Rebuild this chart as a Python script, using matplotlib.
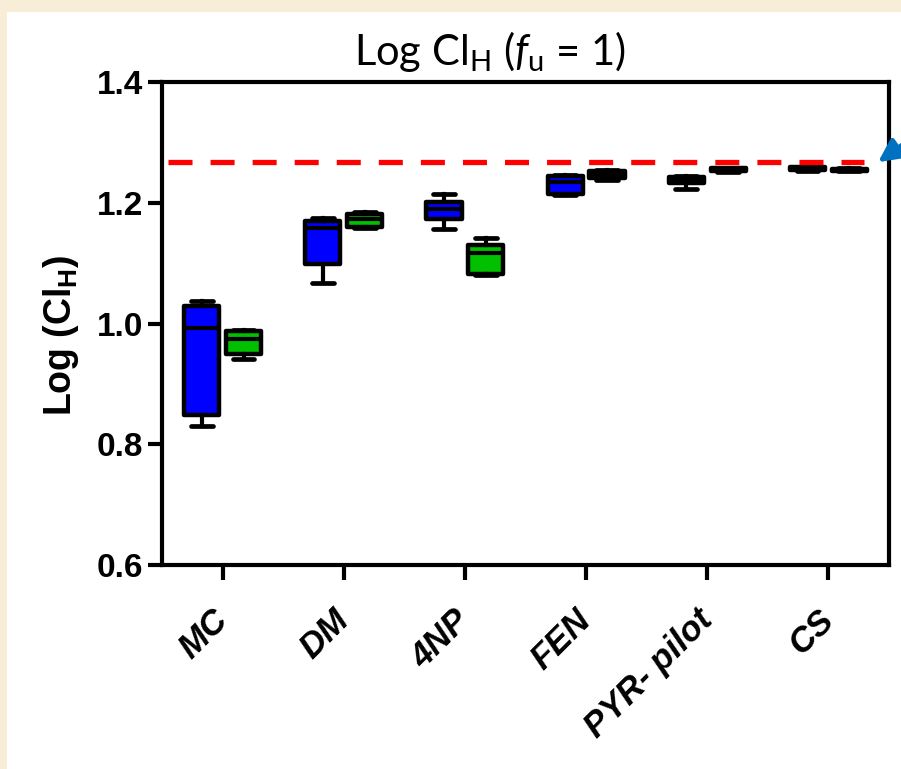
import matplotlib
matplotlib.use("Agg")
import matplotlib.pyplot as plt
from matplotlib.patches import Rectangle
import numpy as np

plt.rcParams['mathtext.fontset'] = 'custom'
plt.rcParams['mathtext.rm'] = 'Lato'
plt.rcParams['mathtext.it'] = 'Lato:italic'
plt.rcParams['mathtext.bf'] = 'Liberation Sans:bold'

# ---- data ----
categories = ["MC", "DM", "4NP", "FEN", "PYR- pilot", "CS"]
# five-number summaries: whislo, q1, med, q3, whishi
blue_lo  = [0.830, 1.067, 1.156, 1.213, 1.222, 1.253]
blue_q1  = [0.848, 1.099, 1.173, 1.215, 1.233, 1.255]
blue_med = [0.993, 1.159, 1.190, 1.234, 1.236, 1.257]
blue_q3  = [1.029, 1.169, 1.201, 1.244, 1.243, 1.259]
blue_hi  = [1.037, 1.174, 1.214, 1.246, 1.245, 1.260]

green_lo  = [0.942, 1.158, 1.080, 1.238, 1.251, 1.252]
green_q1  = [0.950, 1.160, 1.082, 1.241, 1.252, 1.253]
green_med = [0.974, 1.173, 1.117, 1.247, 1.255, 1.2545]
green_q3  = [0.988, 1.182, 1.130, 1.252, 1.257, 1.256]
green_hi  = [0.990, 1.184, 1.141, 1.254, 1.258, 1.257]

reference_value = 1.267
yticks = [0.6, 0.8, 1.0, 1.2, 1.4]

BLUE = '#0000FF'
GREEN = '#00C000'

fig = plt.figure(figsize=(9.01, 7.69), dpi=100)
fig.patch.set_facecolor('#F8EDD6')
fig.add_artist(Rectangle((7/901, 0), 1 - 7/901, 1 - 12/769,
                         transform=fig.transFigure, facecolor='white',
                         edgecolor='none', zorder=0))

ax = fig.add_axes([162/901, (769-565)/769, (889-162)/901, (565-82)/769])
ax.set_facecolor('white')

def stats(lo, q1, med, q3, hi):
    return [dict(whislo=a, q1=b, med=c, q3=d, whishi=e, fliers=[])
            for a, b, c, d, e in zip(lo, q1, med, q3, hi)]

x = np.arange(len(categories))
off = 0.173
common = dict(widths=0.29, patch_artist=True, showfliers=False,
              medianprops=dict(color='black', linewidth=3, solid_capstyle='butt'),
              whiskerprops=dict(color='black', linewidth=3),
              capprops=dict(color='black', linewidth=3.4, solid_capstyle='round'),
              capwidths=0.18, manage_ticks=False)

ax.bxp(stats(blue_lo, blue_q1, blue_med, blue_q3, blue_hi), positions=x - off,
       boxprops=dict(facecolor=BLUE, edgecolor='black', linewidth=3.2, joinstyle='round'),
       **common)
ax.bxp(stats(green_lo, green_q1, green_med, green_q3, green_hi), positions=x + off,
       boxprops=dict(facecolor=GREEN, edgecolor='black', linewidth=3.2, joinstyle='round'),
       **common)

ax.axhline(reference_value, xmin=0.008, xmax=0.966, color='#FF0000', lw=3.8,
           linestyle=(0, (4.55, 3.42)), zorder=5)

ax.set_xlim(-0.5, 5.5)
ax.set_ylim(0.6, 1.4)
ax.set_yticks(yticks)
ax.set_yticklabels([f"{v:.1f}" for v in yticks], fontfamily='Liberation Sans',
                   fontweight='bold', fontsize=24)
ax.set_xticks(x)
ax.set_xticklabels(categories, rotation=45, ha='right', va='center',
                   rotation_mode='anchor', fontfamily='Liberation Sans',
                   fontweight='bold', fontstyle='italic', fontsize=25)

for s in ax.spines.values():
    s.set_linewidth(3)
ax.tick_params(axis='y', direction='out', length=10, width=3, pad=3.5)
ax.tick_params(axis='x', direction='out', length=11, width=3, pad=25)

ax.set_ylabel(r'$\mathbf{Log\ (Cl_H)}$', fontsize=27)
ax.yaxis.set_label_coords(-0.112, 0.476)

ax.text(0.451, 1.035, r'Log Cl$_\mathrm{H}$ ($f_\mathrm{u}$ = 1)',
        transform=ax.transAxes, ha='center', va='baseline',
        fontfamily='Lato', fontsize=30)

ax.annotate('', xy=(0.985, 0.834), xytext=(1.07, 0.925),
            xycoords='axes fraction', textcoords='axes fraction',
            arrowprops=dict(arrowstyle='-|>', color='#0070C0', lw=3.5,
                            mutation_scale=34, shrinkA=0, shrinkB=0),
            annotation_clip=False)

fig.savefig('out.png', dpi=100, facecolor=fig.get_facecolor())
